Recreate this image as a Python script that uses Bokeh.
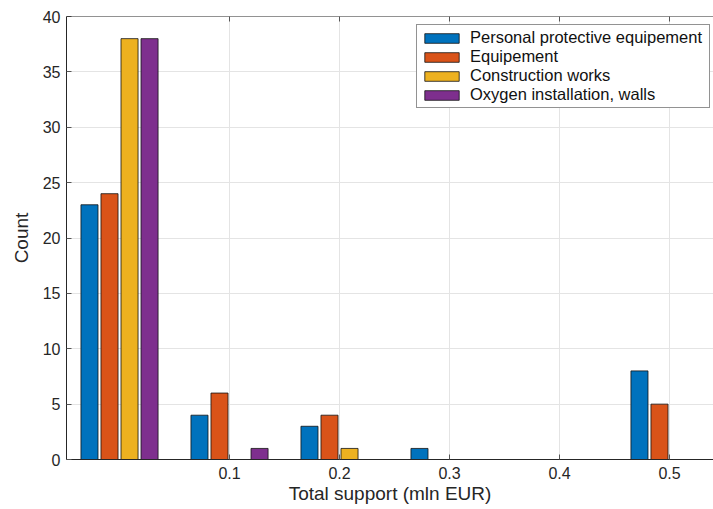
from bokeh.plotting import figure
from bokeh.models import Range1d, FixedTicker, Legend, LegendItem, Span
from bokeh.embed import file_html
from bokeh.resources import INLINE

# Histogram bins (bin centres, mln EUR) and counts per support category
bin_centers = [0.0, 0.1, 0.2, 0.3, 0.4, 0.5]
ppe_counts = [23, 4, 3, 1, 0, 8]
equipment_counts = [24, 6, 4, 0, 0, 5]
construction_counts = [38, 0, 1, 0, 0, 0]
oxygen_counts = [38, 1, 0, 0, 0, 0]

series_names = [
    "Personal protective equipement",
    "Equipement",
    "Construction works",
    "Oxygen installation, walls",
]
series_values = [ppe_counts, equipment_counts, construction_counts, oxygen_counts]
series_colors = ["#0072BD", "#D95319", "#EDB120", "#7E2F8E"]

x_ticks = [0.1, 0.2, 0.3, 0.4, 0.5]
y_ticks = [0, 5, 10, 15, 20, 25, 30, 35, 40]

FONT = "Liberation Sans"
AXIS_COLOR = "#262626"
Y_MAX = 40

p = figure(
    width=713,
    height=509,
    x_range=Range1d(-0.0482, 0.54),
    y_range=Range1d(0, Y_MAX),
    output_backend="svg",
    toolbar_location=None,
    min_border_left=66,
    min_border_right=0,
    min_border_top=16,
    min_border_bottom=50,
)
p.outline_line_color = None
p.background_fill_color = "white"
p.border_fill_color = "white"

# grid
p.xgrid.ticker = FixedTicker(ticks=x_ticks)
p.ygrid.ticker = FixedTicker(ticks=y_ticks[1:-1])
p.xgrid.grid_line_color = "#e4e4e4"
p.ygrid.grid_line_color = "#e4e4e4"

# grouped bars
step = 0.0182
bar_width = 0.0155
renderers = []
for i, (vals, color) in enumerate(zip(series_values, series_colors)):
    offset = (i - 1.5) * step
    xs = [c + offset for c in bin_centers]
    r = p.vbar(x=xs, top=vals, bottom=0, width=bar_width,
               fill_color=color, line_color="#111111", line_width=0.8)
    renderers.append(r)

# axes
p.xaxis.ticker = FixedTicker(ticks=x_ticks)
p.yaxis.ticker = FixedTicker(ticks=y_ticks)
for ax in (p.xaxis[0], p.yaxis[0]):
    ax.major_tick_in = 5
    ax.major_tick_out = 0
    ax.minor_tick_line_color = None
    ax.axis_line_color = AXIS_COLOR
    ax.major_tick_line_color = "#555555"
    ax.major_label_text_font = FONT
    ax.major_label_text_font_size = "16px"
    ax.major_label_text_color = AXIS_COLOR
    ax.axis_label_text_font = FONT
    ax.axis_label_text_font_size = "19px"
    ax.axis_label_text_font_style = "normal"
    ax.axis_label_text_color = AXIS_COLOR

p.xaxis.axis_label = "Total support (mln EUR)"
p.xaxis.major_label_standoff = 7
p.xaxis.axis_label_standoff = 1
p.yaxis.axis_label = "Count"
p.yaxis.major_label_standoff = 6
p.yaxis.axis_label_standoff = 8

# top edge of the box, with short inward ticks at the x tick positions
p.add_layout(Span(location=Y_MAX, dimension="width",
                  line_color=AXIS_COLOR, line_width=1))
tick_len = 5 * Y_MAX / 443
p.segment(x0=x_ticks, y0=[Y_MAX] * len(x_ticks),
          x1=x_ticks, y1=[Y_MAX - tick_len] * len(x_ticks),
          line_color="#555555", line_width=1)

legend = Legend(
    items=[LegendItem(label=n, renderers=[r]) for n, r in zip(series_names, renderers)],
    location=(350, 351),
    label_text_font=FONT,
    label_text_font_size="16.5px",
    label_text_color="#111111",
    glyph_width=43,
    glyph_height=12,
    label_height=16,
    label_width=236,
    label_standoff=7,
    padding=3,
    spacing=0,
    margin=0,
    border_line_color=AXIS_COLOR,
    border_line_width=1,
    background_fill_color="white",
    background_fill_alpha=1.0,
)
p.add_layout(legend, "center")

open("out.html", "w").write(file_html(p, INLINE))
